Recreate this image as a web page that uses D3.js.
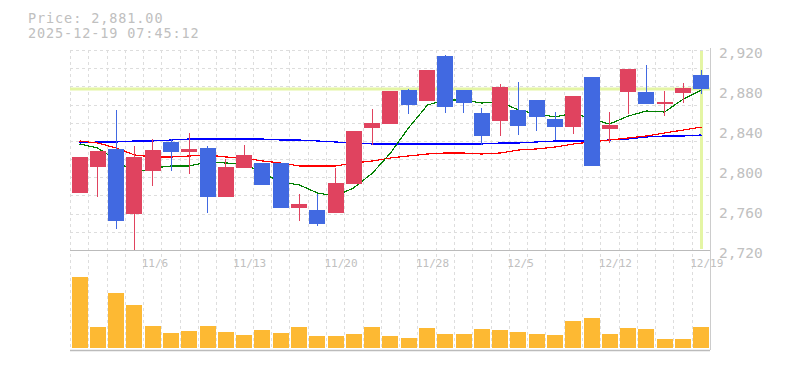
<!DOCTYPE html>
<html>
<head>
<meta charset="utf-8">
<style>
  body { margin: 0; background: #fff; }
  svg { display: block; }
  .grid line { stroke: #ddd; stroke-dasharray: 3,3; }
  .lbl { font-family: "DejaVu Sans Mono", monospace; fill: #c0c0c0; }
</style>
</head>
<body>
<svg width="785" height="370"></svg>
<script src="https://cdn.jsdelivr.net/npm/d3@7"></script>
<script>

// trading days (last 35 sessions)
var dates = ["10/30","10/31","11/4","11/5","11/6","11/7","11/10","11/11","11/12","11/13",
             "11/14","11/17","11/18","11/19","11/20","11/21","11/25","11/26","11/27","11/28",
             "12/1","12/2","12/3","12/4","12/5","12/8","12/9","12/10","12/11","12/12",
             "12/15","12/16","12/17","12/18","12/19"];

var opens  = [2777,2803,2821,2756,2799,2828,2818,2822,2773,2802,
              2807,2807,2762,2760,2757,2786,2842,2846,2880,2869,
              2914,2880,2857,2849,2860,2870,2851,2843,2893,2841,
              2878,2878,2866,2877,2895];
var highs  = [2813,2819,2860,2824,2831,2831,2837,2824,2811,2825,
              2807,2807,2776,2776,2802,2839,2861,2879,2881,2900,
              2915,2880,2862,2886,2888,2870,2858,2874,2893,2858,
              2901,2905,2879,2887,2900];
var lows   = [2777,2773,2741,2720,2784,2799,2796,2757,2773,2802,
              2785,2762,2749,2744,2757,2786,2825,2846,2856,2869,
              2857,2857,2825,2834,2835,2839,2830,2836,2804,2827,
              2856,2866,2854,2867,2876];
var closes = [2813,2819,2749,2813,2820,2818,2821,2773,2803,2815,
              2785,2762,2766,2746,2787,2839,2847,2879,2865,2900,
              2863,2867,2834,2883,2844,2853,2843,2874,2804,2845,
              2901,2866,2868,2882,2881];

// volume (thousand shares)
var volumes = [713,210,550,430,220,150,170,220,160,130,
               180,150,210,120,120,140,210,120,100,200,
               140,140,190,180,160,140,130,270,300,140,
               200,190,90,90,210];

// moving averages
var ma5  = [2826,2822,2810,2797,2802,2804,2804,2808,2807,2806,
            2797,2788,2785,2777,2774,2782,2797,2817,2842,2865,
            2870,2870,2867,2868,2860,2856,2853,2857,2851,2846,
            2854,2859,2858,2871,2880];
var ma25 = [2829,2827,2822,2815,2813,2813,2814,2815,2813,2812,
            2809,2807,2804,2804,2804,2807,2809,2812,2814,2816,
            2817,2817,2816,2817,2820,2821,2823,2826,2828,2830,
            2832,2834,2837,2840,2843];
var ma75 = [2827,2828,2828,2829,2829,2830,2831,2831,2831,2831,
            2831,2830,2830,2829,2828,2827,2826,2826,2826,2826,
            2826,2826,2826,2827,2827,2828,2829,2829,2829,2830,
            2831,2833,2834,2834,2835];

var priceTicks = [2720,2760,2800,2840,2880,2920];
var dateTicks = ["11/6","11/13","11/20","11/28","12/5","12/12","12/19"];
var lastPrice = 2881;
var stamp = "2025-12-19 07:45:12";

var svg = d3.select("svg"),
    plotL = 70, plotR = 710, plotT = 50, priceB = 250, volB = 348, volEnd = 350;

var x = d3.scaleBand().domain(dates).range([plotL, plotR]);
var y = d3.scaleLinear().domain([2720, 2920]).range([priceB, plotT]);
var yv = d3.scaleLinear().domain([0, 800]).range([volB, volB - 80]);
var step = x.step();
var cx = function(d) { return Math.round(x(d) + step / 2) + 0.5; };

// grid
var grid = svg.append("g").attr("class", "grid");
var cells = d3.range(0, 11).map(function(k) { return plotT + k * (priceB - plotT) / 11; });
grid.selectAll(".h").data(cells).enter().append("line")
    .attr("x1", plotL).attr("x2", plotR)
    .attr("y1", function(d) { return Math.round(d) + 0.5; })
    .attr("y2", function(d) { return Math.round(d) + 0.5; });
grid.selectAll(".v").data(d3.range(0, dates.length)).enter().append("line")
    .attr("x1", function(k) { return Math.round(plotL + k * step) + 0.5; })
    .attr("x2", function(k) { return Math.round(plotL + k * step) + 0.5; })
    .attr("y1", plotT).attr("y2", volEnd);

// frame
svg.append("line").attr("x1", plotL).attr("x2", plotR).attr("y1", priceB + 0.5).attr("y2", priceB + 0.5)
    .attr("stroke", "#bbb");
svg.append("line").attr("x1", plotL).attr("x2", plotR).attr("y1", volEnd + 0.5).attr("y2", volEnd + 0.5)
    .attr("stroke", "#bbb").attr("stroke-width", 1.5);
svg.append("line").attr("x1", plotR + 0.5).attr("x2", plotR + 0.5).attr("y1", plotT - 2).attr("y2", volEnd)
    .attr("stroke", "#ccc");

// current price / cursor highlight
var hl = "#e4f5a4";
svg.append("line").attr("x1", plotL).attr("x2", plotR)
    .attr("y1", y(lastPrice)).attr("y2", y(lastPrice))
    .attr("stroke", hl).attr("stroke-width", 3);
svg.append("line").attr("x1", cx(dates[dates.length - 1])).attr("x2", cx(dates[dates.length - 1]))
    .attr("y1", plotT + 1).attr("y2", priceB - 1)
    .attr("stroke", hl).attr("stroke-width", 3);

// moving averages
var ma = [[ma75, "#0000ff"], [ma25, "#ff0000"], [ma5, "#008000"]];
ma.forEach(function(m) {
  var line = d3.line()
      .x(function(d, i) { return cx(dates[i]); })
      .y(function(d) { return y(d); });
  svg.append("path").datum(m[0])
      .attr("d", line)
      .attr("fill", "none")
      .attr("stroke", m[1])
      .attr("stroke-width", 1.2)
      .attr("shape-rendering", "crispEdges");
});

// candles
var up = "#e0435f", down = "#4169e1";
var candles = svg.append("g").attr("shape-rendering", "crispEdges");
dates.forEach(function(d, i) {
  var o = opens[i], c = closes[i], col = c >= o ? up : down;
  candles.append("line")
      .attr("x1", cx(d)).attr("x2", cx(d))
      .attr("y1", y(highs[i])).attr("y2", y(lows[i]))
      .attr("stroke", col);
  var yt = y(Math.max(o, c)), yb = y(Math.min(o, c));
  candles.append("rect")
      .attr("x", Math.round(x(d) + 1.5))
      .attr("width", 16)
      .attr("y", yt)
      .attr("height", Math.max(2, yb - yt))
      .attr("fill", col);
});

// volume
svg.append("g").attr("shape-rendering", "crispEdges")
  .selectAll("rect").data(volumes).enter().append("rect")
    .attr("x", function(v, i) { return Math.round(x(dates[i]) + 1.5); })
    .attr("width", 16)
    .attr("y", function(v) { return yv(v); })
    .attr("height", function(v) { return volB - yv(v); })
    .attr("fill", "#fdb933");

// price labels
svg.selectAll(".py").data(priceTicks).enter().append("text")
    .attr("class", "lbl")
    .attr("x", 719)
    .attr("y", function(d) { return y(d) + 8; })
    .style("font-size", "14.5px")
    .text(d3.format(","));

// date labels
svg.selectAll(".dx").data(dateTicks).enter().append("text")
    .attr("class", "lbl")
    .attr("x", function(d) { return x(d) - 1.5; })
    .attr("y", 267)
    .style("font-size", "11px")
    .text(function(d) { return d; });

// header
svg.append("text").attr("class", "lbl").attr("x", 28).attr("y", 23)
    .style("font-size", "13.5px").style("letter-spacing", "0.9px")
    .text("Price: " + d3.format(",.2f")(lastPrice));
svg.append("text").attr("class", "lbl").attr("x", 28).attr("y", 38)
    .style("font-size", "13.5px").style("letter-spacing", "0.9px")
    .text(stamp);

</script>
</body>
</html>
